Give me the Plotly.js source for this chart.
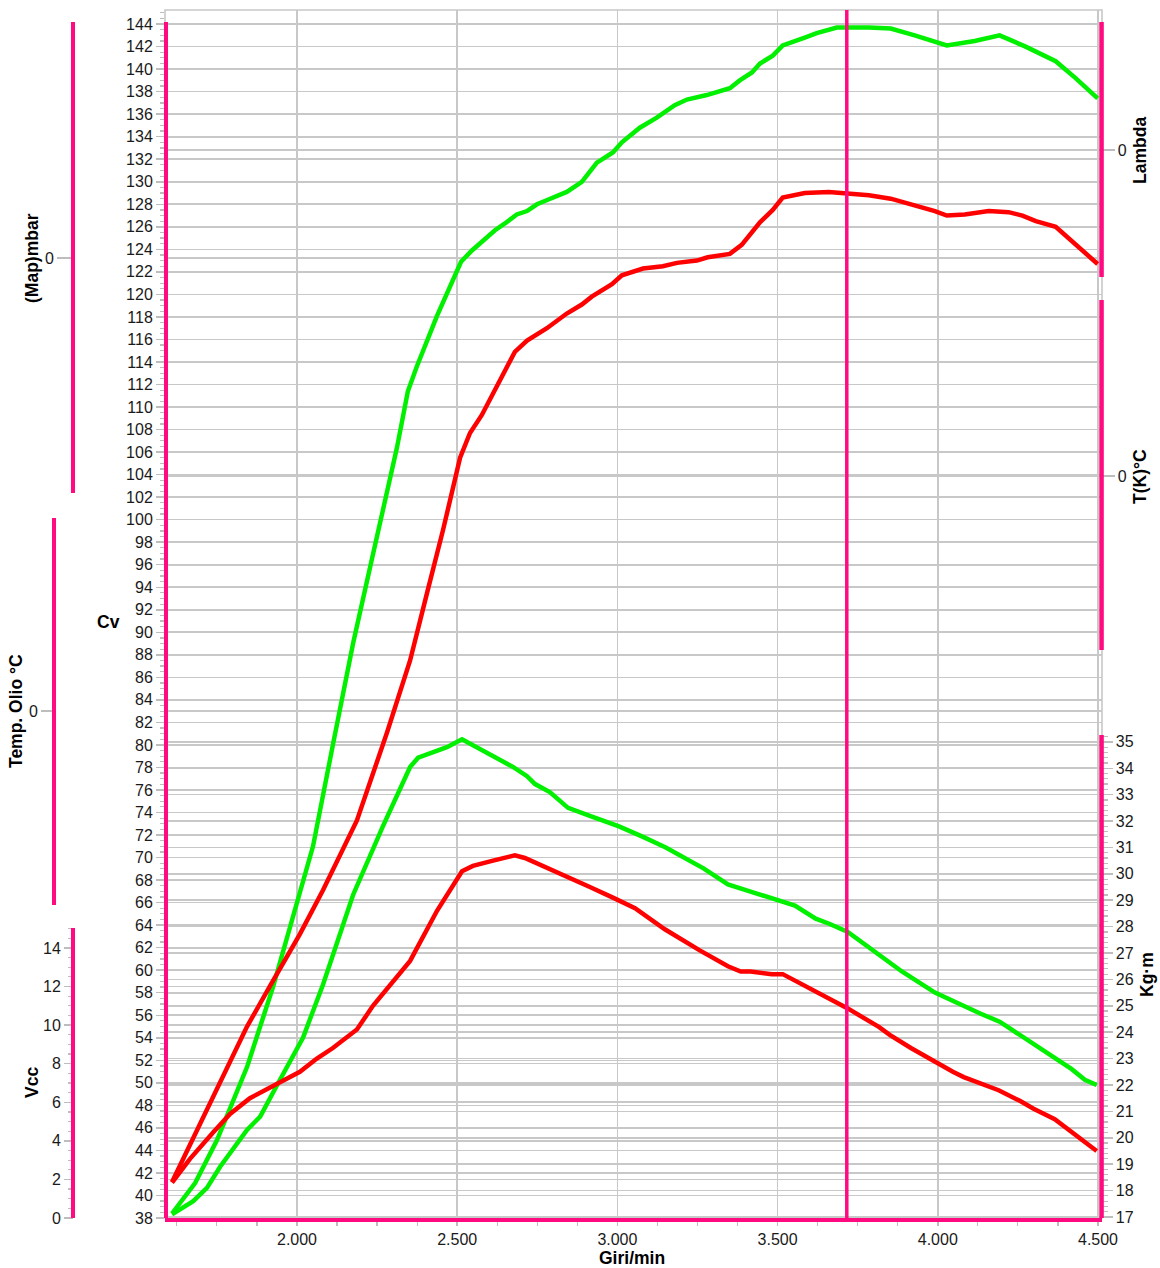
<!DOCTYPE html>
<html>
<head>
<meta charset="utf-8">
<script src="https://cdn.plot.ly/plotly-3.0.1.min.js"></script>
<style>html,body{margin:0;padding:0;background:#fff;}#chart{width:1160px;height:1268px;}</style>
</head>
<body>
<div id="chart"></div>
<script>
// ---- data ----
var rpmCvGreen = [1610,1682,1750,1844,1925,2000,2050,2112,2175,2237,2312,2346,2374,2437,2512,2546,2580,2618,2649,2686,2718,2749,2783,2842,2889,2936,2986,3014,3070,3123,3179,3217,3279,3310,3351,3382,3420,3445,3485,3516,3551,3585,3622,3685,3785,3853,3928,3991,4028,4115,4193,4274,4368,4430,4499];
var cvGreen = [38.4,41.1,44.9,51.4,58.5,65.8,71.0,80.0,89.0,96.9,106.4,111.4,113.6,118.1,122.9,123.9,124.8,125.7,126.3,127.1,127.4,128.0,128.4,129.1,130.0,131.7,132.6,133.5,134.8,135.7,136.8,137.3,137.7,138.0,138.3,139.0,139.7,140.5,141.2,142.1,142.5,142.8,143.2,143.7,143.7,143.6,143.0,142.4,142.1,142.5,143.0,142.0,140.7,139.2,137.4];

var rpmCvRed = [1610,1688,1750,1844,1916,2009,2081,2187,2281,2353,2406,2456,2509,2540,2577,2633,2680,2718,2780,2842,2889,2920,2983,3014,3080,3142,3186,3248,3282,3351,3388,3445,3485,3516,3554,3585,3660,3716,3785,3853,3928,3991,4028,4084,4159,4221,4264,4306,4368,4430,4499];
var cvRed = [41.2,45.8,49.6,55.0,58.6,63.2,67.1,73.3,81.1,87.5,93.5,99.1,105.5,107.7,109.3,112.4,114.9,115.9,117.0,118.3,119.1,119.8,120.9,121.7,122.3,122.5,122.8,123.0,123.3,123.6,124.4,126.4,127.5,128.6,128.8,129.0,129.1,129.0,128.8,128.5,127.9,127.4,127.0,127.1,127.4,127.3,127.0,126.5,126.0,124.4,122.7];

var rpmKgGreen = [1610,1676,1719,1760,1844,1885,1938,2019,2081,2175,2268,2353,2378,2424,2468,2515,2593,2674,2718,2743,2789,2846,2914,3005,3080,3151,3270,3345,3423,3523,3554,3619,3663,3719,3785,3844,3888,3991,4059,4134,4193,4256,4321,4418,4459,4496];
var kgGreen = [17.1,17.6,18.1,18.9,20.3,20.8,22.0,23.8,25.8,29.2,31.8,34.05,34.4,34.6,34.8,35.1,34.6,34.05,33.7,33.4,33.1,32.5,32.2,31.8,31.4,31.0,30.2,29.6,29.3,28.9,28.8,28.3,28.1,27.8,27.2,26.7,26.3,25.5,25.1,24.7,24.4,23.9,23.4,22.6,22.2,22.0];

var rpmKgRed = [1610,1666,1738,1791,1853,1916,2009,2062,2112,2187,2237,2353,2437,2515,2549,2612,2680,2711,2768,2842,2914,2986,3055,3148,3214,3257,3345,3385,3416,3482,3516,3610,3685,3719,3816,3850,3916,3959,4047,4081,4125,4190,4256,4299,4365,4418,4496];
var kgRed = [18.3,19.2,20.2,20.9,21.5,21.9,22.5,23.0,23.4,24.1,25.0,26.7,28.6,30.1,30.3,30.5,30.7,30.6,30.3,29.9,29.5,29.1,28.7,27.9,27.4,27.1,26.5,26.3,26.3,26.2,26.2,25.6,25.1,24.9,24.2,23.9,23.4,23.1,22.5,22.3,22.1,21.8,21.4,21.1,20.7,20.2,19.5];

var cursorRpm = 3716;
var vccTicks = [0,2,4,6,8,10,12,14];
var kgTicks = [17,18,19,20,21,22,23,24,25,26,27,28,29,30,31,32,33,34,35];
var zeroTick = [0];

// ---- styling ----
var PINK = '#ff0a80';
var GRID = '#c8c8c8';
var TICKC = '#bdbdbd';
var FONT = 'Liberation Sans, Arial, sans-serif';
var tickFont = {family: FONT, size: 16, color: '#1a1a1a'};

function range(a, b, s) { var r = []; for (var v = a; v <= b + 1e-9; v += s) r.push(Math.round(v * 1000) / 1000); return r; }

var traces = [
  {x: rpmCvGreen, y: cvGreen, xaxis: 'x', yaxis: 'y', mode: 'lines', line: {color: '#00f000', width: 4.5}},
  {x: rpmCvRed, y: cvRed, xaxis: 'x', yaxis: 'y', mode: 'lines', line: {color: '#ff0000', width: 4.5}},
  {x: rpmKgGreen, y: kgGreen, xaxis: 'x', yaxis: 'y7', mode: 'lines', line: {color: '#00f000', width: 4.5}},
  {x: rpmKgRed, y: kgRed, xaxis: 'x', yaxis: 'y7', mode: 'lines', line: {color: '#ff0000', width: 4.5}}
];
// empty traces so that the data-less channel axes are drawn
['y2', 'y3', 'y4', 'y5', 'y6'].forEach(function (ya) {
  traces.push({x: [null], y: [null], xaxis: 'x', yaxis: ya, mode: 'lines', hoverinfo: 'skip'});
});

function sideAxis(pos, side, rng, tv, ticklen, minorVals, minorLen) {
  var ax = {
    overlaying: 'y', anchor: 'free', position: pos, side: side,
    range: rng, autorange: false, tickmode: 'array', tickvals: tv, ticks: 'outside', ticklen: ticklen,
    tickwidth: 1.5, tickcolor: TICKC, showline: false, zeroline: false,
    showgrid: true, gridcolor: GRID, gridwidth: 1.6, tickfont: tickFont, fixedrange: true
  };
  if (minorVals) ax.minor = {tickmode: 'array', tickvals: minorVals, ticks: 'outside', ticklen: minorLen, tickwidth: 1.2, tickcolor: TICKC, showgrid: false};
  return ax;
}

var layout = {
  width: 1160, height: 1268,
  margin: {l: 10, r: 10, t: 10, b: 50},
  paper_bgcolor: '#fff', plot_bgcolor: 'rgba(0,0,0,0)',
  showlegend: false, hovermode: false,
  separators: ',.',
  xaxis: {
    domain: [0.13596, 0.95789], range: [1588, 4512.5],
    tick0: 0, dtick: 500, separatethousands: true, tickformat: ',d',
    ticks: 'outside', ticklen: 4, tickwidth: 1.5, tickcolor: TICKC,
    minor: {dtick: 125, ticks: 'outside', ticklen: 4, tickwidth: 1.2, tickcolor: TICKC, showgrid: false},
    showgrid: true, gridcolor: GRID, gridwidth: 1.6, zeroline: false,
    showline: true, linecolor: PINK, linewidth: 4,
    tickfont: tickFont, fixedrange: true
  },
  yaxis: {
    anchor: 'x', range: [38, 145.25], tick0: 38, dtick: 2,
    ticks: 'outside', ticklen: 8, tickwidth: 1.5, tickcolor: TICKC,
    minor: {dtick: 0.5, ticks: 'outside', ticklen: 4, tickwidth: 1.2, tickcolor: TICKC, showgrid: false},
    showgrid: true, gridcolor: GRID, gridwidth: 1.6, zeroline: false, showline: false,
    tickfont: tickFont, fixedrange: true
  },
  // (Map)mbar
  yaxis2: sideAxis(0.05526, 'left', [-0.7947, 0.2053], zeroTick, 16),
  // Temp. Olio °C
  yaxis3: sideAxis(0.0386, 'left', [-0.4197, 0.5803], zeroTick, 13),
  // Vcc
  yaxis4: sideAxis(0.05526, 'left', [0, 62.62], vccTicks, 9, range(0, 15, 0.5), 5),
  // Lambda
  yaxis5: sideAxis(0.9575, 'right', [-0.8841, 0.1159], zeroTick, 12),
  // T(K)°C
  yaxis6: sideAxis(0.9575, 'right', [-0.6142, 0.3858], zeroTick, 12),
  // Kg·m
  yaxis7: sideAxis(0.9575, 'right', [16.96, 62.73], kgTicks, 10, range(17, 35.2, 0.2), 5),
  shapes: [
    {type: 'rect', xref: 'paper', yref: 'paper', x0: 0.13596, x1: 0.95789, y0: 0, y1: 1, line: {color: GRID, width: 1.6}, layer: 'below'},
    {type: 'line', xref: 'x', yref: 'paper', x0: cursorRpm, x1: cursorRpm, y0: 0, y1: 1, line: {color: PINK, width: 3.5}},
    {type: 'line', xref: 'paper', yref: 'paper', x0: 0.13684, x1: 0.13684, y0: 0, y1: 0.9901, line: {color: PINK, width: 4}},
    {type: 'line', xref: 'paper', yref: 'paper', x0: 0.05526, x1: 0.05526, y0: 0.6002, y1: 0.9901, line: {color: PINK, width: 4}},
    {type: 'line', xref: 'paper', yref: 'paper', x0: 0.0386, x1: 0.0386, y0: 0.2591, y1: 0.5795, line: {color: PINK, width: 4}},
    {type: 'line', xref: 'paper', yref: 'paper', x0: 0.05526, x1: 0.05526, y0: 0, y1: 0.2401, line: {color: PINK, width: 4}},
    {type: 'line', xref: 'paper', yref: 'paper', x0: 0.9575, x1: 0.9575, y0: 0.7790, y1: 0.9901, line: {color: PINK, width: 4.5}},
    {type: 'line', xref: 'paper', yref: 'paper', x0: 0.9575, x1: 0.9575, y0: 0.4702, y1: 0.7599, line: {color: PINK, width: 4.5}},
    {type: 'line', xref: 'paper', yref: 'paper', x0: 0.9575, x1: 0.9575, y0: 0, y1: 0.3998, line: {color: PINK, width: 4.5}}
  ],
  annotations: [
    {text: '<b>(Map)mbar</b>', x: 0.0193, y: 0.7947, textangle: -90},
    {text: '<b>Temp. Olio °C</b>', x: 0.00526, y: 0.4197, textangle: -90},
    {text: '<b>Vcc</b>', x: 0.0193, y: 0.1118, textangle: -90},
    {text: '<b>Cv</b>', x: 0.0860, y: 0.4934, textangle: 0},
    {text: '<b>Lambda</b>', x: 0.9912, y: 0.8841, textangle: -90},
    {text: '<b>T(K)°C</b>', x: 0.9912, y: 0.6142, textangle: -90},
    {text: '<b>Kg·m</b>', x: 0.9974, y: 0.2012, textangle: -90},
    {text: '<b>Giri/min</b>', x: 0.5456, y: -0.0331, textangle: 0}
  ].map(function (a) {
    a.xref = 'paper'; a.yref = 'paper'; a.showarrow = false;
    a.xanchor = 'center'; a.yanchor = 'middle';
    a.font = {family: FONT, size: 17.5, color: '#000'};
    return a;
  })
};

Plotly.newPlot('chart', traces, layout, {displayModeBar: false, staticPlot: true});
</script>
</body>
</html>
